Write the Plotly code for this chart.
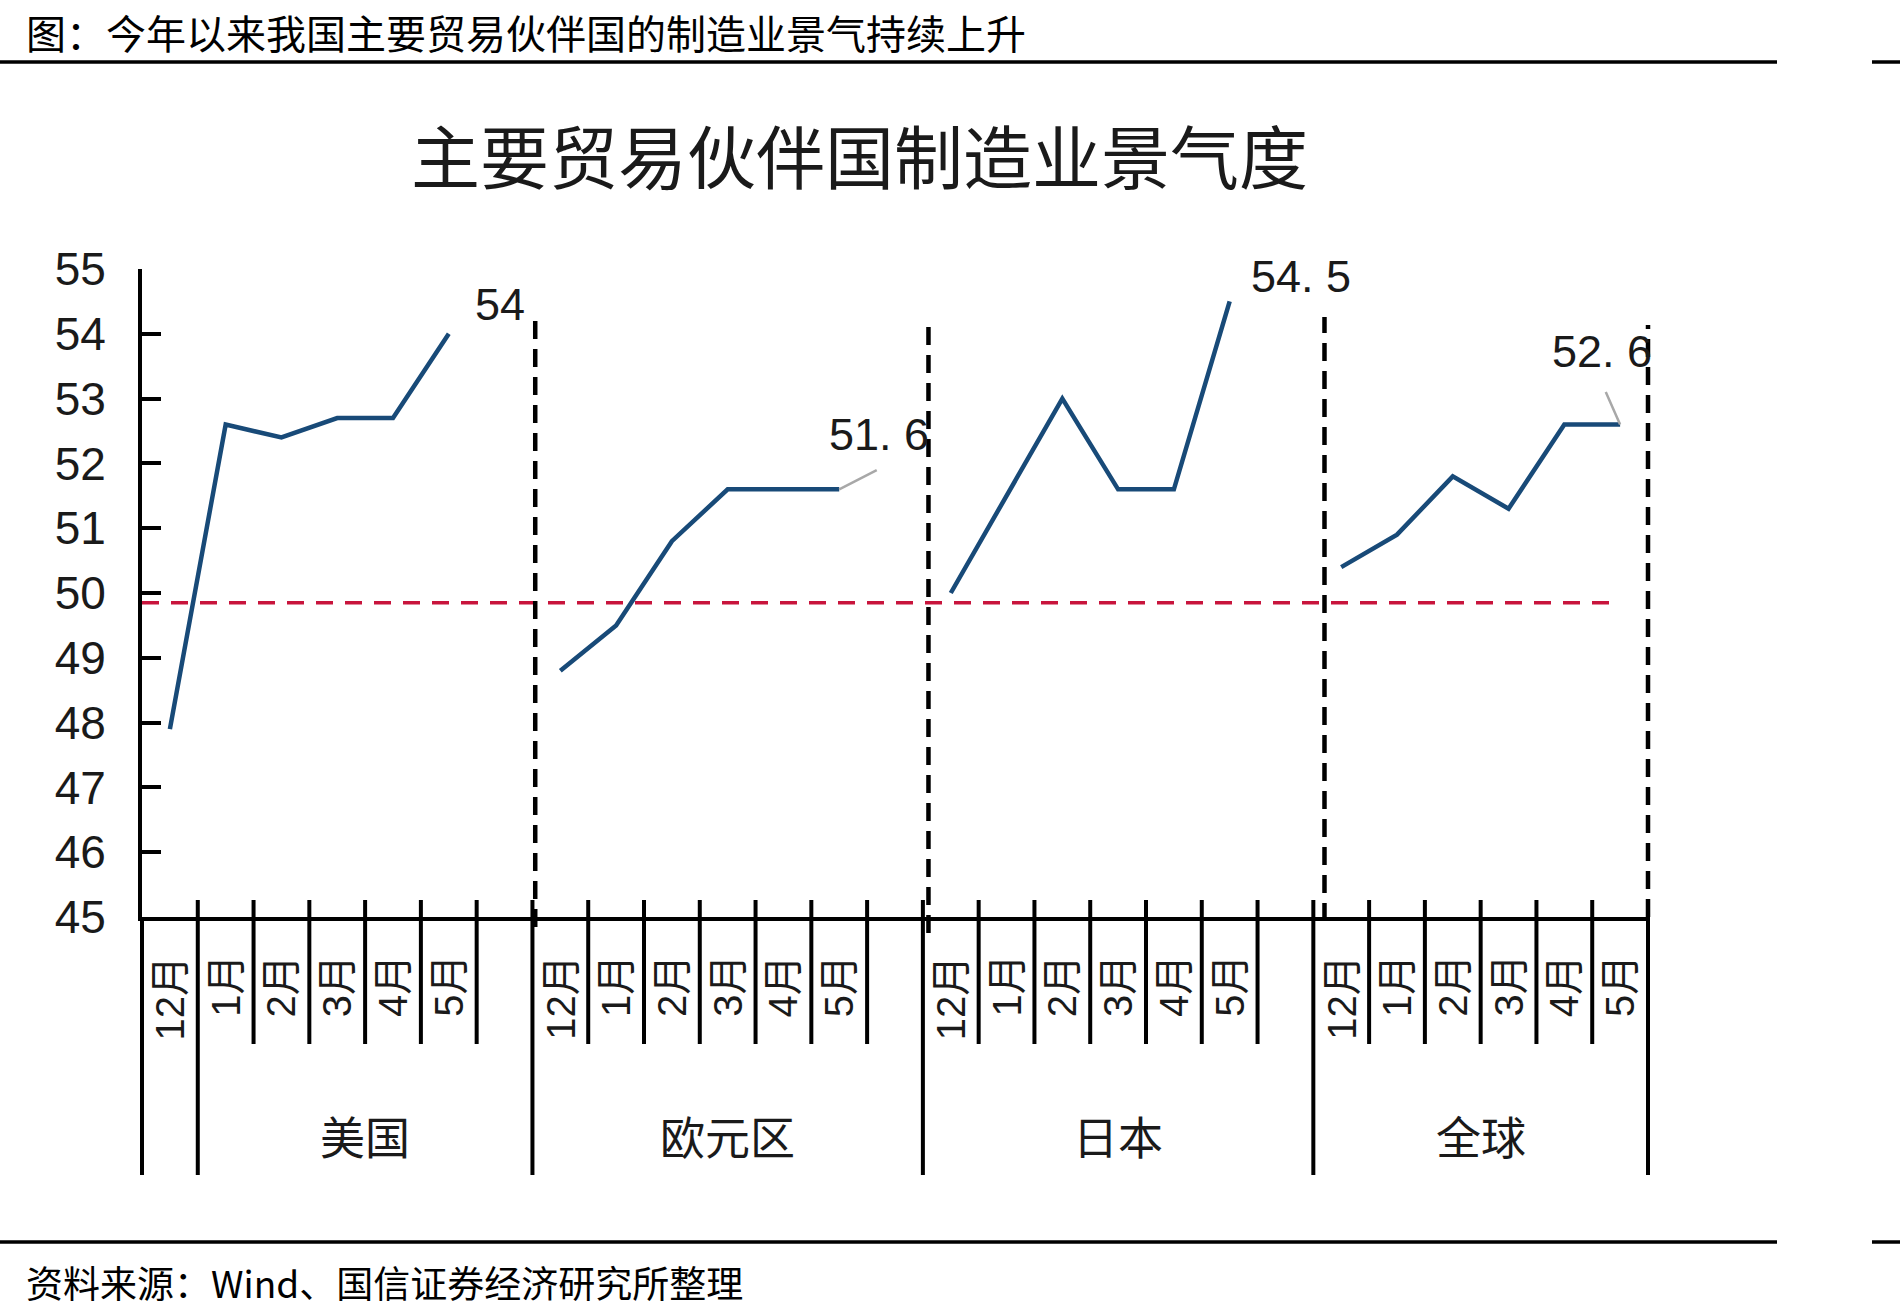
import plotly.graph_objects as go

# ---------------- data ----------------
months = ["12月", "1月", "2月", "3月", "4月", "5月"]
regions = ["美国", "欧元区", "日本", "全球"]
us_pmi = [47.9, 52.6, 52.4, 52.7, 52.7, 54.0]
ez_pmi = [48.8, 49.5, 50.8, 51.6, 51.6, 51.6]
jp_pmi = [50.0, 51.5, 53.0, 51.6, 51.6, 54.5]
gl_pmi = [50.4, 50.9, 51.8, 51.3, 52.6, 52.6]
series = [us_pmi, ez_pmi, jp_pmi, gl_pmi]
slots_per_group = [7, 7, 7, 6]          # 6 months + one empty slot (last group has none)
threshold = 49.85                       # dashed red boom/bust line as drawn
y_ticks = list(range(45, 56))

# ---------------- layout helpers ----------------
W, H = 1900, 1315
L, R, T, B = 142, 252, 269, 398
PW, PH = W - L - R, H - T - B


def px_x(px):
    return (px - L) / PW


def px_y(py):
    return (H - B - py) / PH


FONT_CJK = "Noto Sans CJK SC"
FONT_NUM = "Liberation Sans, Arial, Noto Sans CJK SC"
LINE_COLOR = "#184A78"
RED = "#C8143C"
TXT = "#1a1a1a"

group_start = []
acc = 0
for n in slots_per_group:
    group_start.append(acc)
    acc += n
total_slots = acc


def slot_paper(k):
    # x axis range is [0, total_slots] across the full plot width
    return k / total_slots


fig = go.Figure()

# threshold line
fig.add_trace(go.Scatter(
    x=[0, total_slots - 0.6], y=[threshold, threshold], mode="lines",
    line=dict(color=RED, width=3.5, dash="17px,12px"), hoverinfo="skip", showlegend=False))

# series lines
for g, vals in enumerate(series):
    xs = [group_start[g] + i + 0.5 for i in range(len(vals))]
    fig.add_trace(go.Scatter(
        x=xs, y=vals, mode="lines", name=regions[g],
        line=dict(color=LINE_COLOR, width=4.5), showlegend=False))

shapes = []
annotations = []

# category separators below the axis
for k in range(0, total_slots + 1):
    is_group = k in (0, 1, total_slots) or k in group_start[1:]
    y0 = px_y(900) if k > 0 else px_y(917)
    y1 = px_y(1175) if is_group else px_y(1044)
    shapes.append(dict(type="line", xref="paper", yref="paper",
                       x0=slot_paper(k), x1=slot_paper(k), y0=y0, y1=y1,
                       line=dict(color="black", width=4)))

# dashed vertical group separators (hand drawn in original)
sep_x = [group_start[1] + 0.05, group_start[2] + 0.1, group_start[3] + 0.2, total_slots]
sep_top = [321, 325, 317, 325]
sep_bot = [927, 933, 921, 917]
for sx, st, sb in zip(sep_x, sep_top, sep_bot):
    shapes.append(dict(type="line", xref="paper", yref="paper",
                       x0=slot_paper(sx), x1=slot_paper(sx),
                       y0=px_y(sb), y1=px_y(st),
                       line=dict(color="black", width=4.5, dash="18px,10px")))

# horizontal rules top / bottom
for ry in (62, 1242):
    shapes.append(dict(type="line", xref="paper", yref="paper", x0=px_x(0), x1=px_x(1777),
                       y0=px_y(ry), y1=px_y(ry), line=dict(color="black", width=3.5)))
    shapes.append(dict(type="line", xref="paper", yref="paper", x0=px_x(1872), x1=px_x(1900),
                       y0=px_y(ry), y1=px_y(ry), line=dict(color="black", width=3.5)))

# month labels
for g, n in enumerate(slots_per_group):
    for i, m in enumerate(months):
        annotations.append(dict(
            x=group_start[g] + i + 0.5, y=px_y(953), xref="x", yref="paper",
            text=m, textangle=-90, showarrow=False, yanchor="top", xanchor="center",
            font=dict(family=FONT_NUM, size=40, color=TXT)))

# group labels (group spans from first month of region to next boundary, as in original)
group_lo = [1, group_start[1], group_start[2], group_start[3]]
group_hi = [group_start[1], group_start[2], group_start[3], total_slots]
for g, name in enumerate(regions):
    annotations.append(dict(
        x=(group_lo[g] + group_hi[g]) / 2, y=px_y(1135), xref="x", yref="paper",
        xanchor="center", yanchor="middle",
        text=name, showarrow=False, font=dict(family=FONT_CJK, size=45, color=TXT)))

# data labels for last values
label_shift = [(51, 29), (40, 55), (71, 25), (-18, 73)]
leader = [None, (39, -20), None, (-15, -34)]
for g, vals in enumerate(series):
    xl = group_start[g] + len(vals) - 0.5
    v = vals[-1]
    txt = f"{v:g}".replace(".", ". ")
    annotations.append(dict(
        x=xl, y=v, xref="x", yref="y", text=txt, showarrow=False,
        xshift=label_shift[g][0], yshift=label_shift[g][1],
        font=dict(family=FONT_NUM, size=45, color=TXT)))
    if leader[g] is not None:
        annotations.append(dict(
            x=xl, y=v, xref="x", yref="y", text="", showarrow=True,
            ax=leader[g][0], ay=leader[g][1], arrowhead=0, arrowwidth=2.5,
            arrowcolor="#A8A8A8", standoff=0, startstandoff=0))

# titles
annotations.append(dict(
    x=px_x(24), y=px_y(1), xref="paper", yref="paper", xanchor="left", yanchor="top",
    text="图：今年以来我国主要贸易伙伴国的制造业景气持续上升", showarrow=False,
    font=dict(family=FONT_CJK, size=40, color="black")))
annotations.append(dict(
    x=px_x(859), y=px_y(154), xref="paper", yref="paper", xanchor="center", yanchor="middle",
    text="主要贸易伙伴国制造业景气度", showarrow=False,
    font=dict(family=FONT_CJK, size=69, color=TXT)))
annotations.append(dict(
    x=px_x(24), y=px_y(1282), xref="paper", yref="paper", xanchor="left", yanchor="middle",
    text="资料来源：Wind、国信证券经济研究所整理", showarrow=False,
    font=dict(family=FONT_CJK, size=37, color="black")))

fig.update_layout(
    width=W, height=H, autosize=False,
    margin=dict(l=L, r=R, t=T, b=B, pad=0),
    paper_bgcolor="white", plot_bgcolor="white",
    showlegend=False,
    shapes=shapes, annotations=annotations,
    xaxis=dict(range=[0, total_slots], showgrid=False, zeroline=False, showticklabels=False,
               ticks="", showline=True, linecolor="black", linewidth=4, fixedrange=True),
    yaxis=dict(range=[45, 55], tickvals=y_ticks, showgrid=False, zeroline=False,
               ticks="inside", ticklen=19, tickwidth=4, tickcolor="black",
               showline=True, linecolor="black", linewidth=4,
               ticklabelstandoff=23,
               tickfont=dict(family=FONT_NUM, size=46, color=TXT), fixedrange=True),
)

fig.write_html("out.html")
